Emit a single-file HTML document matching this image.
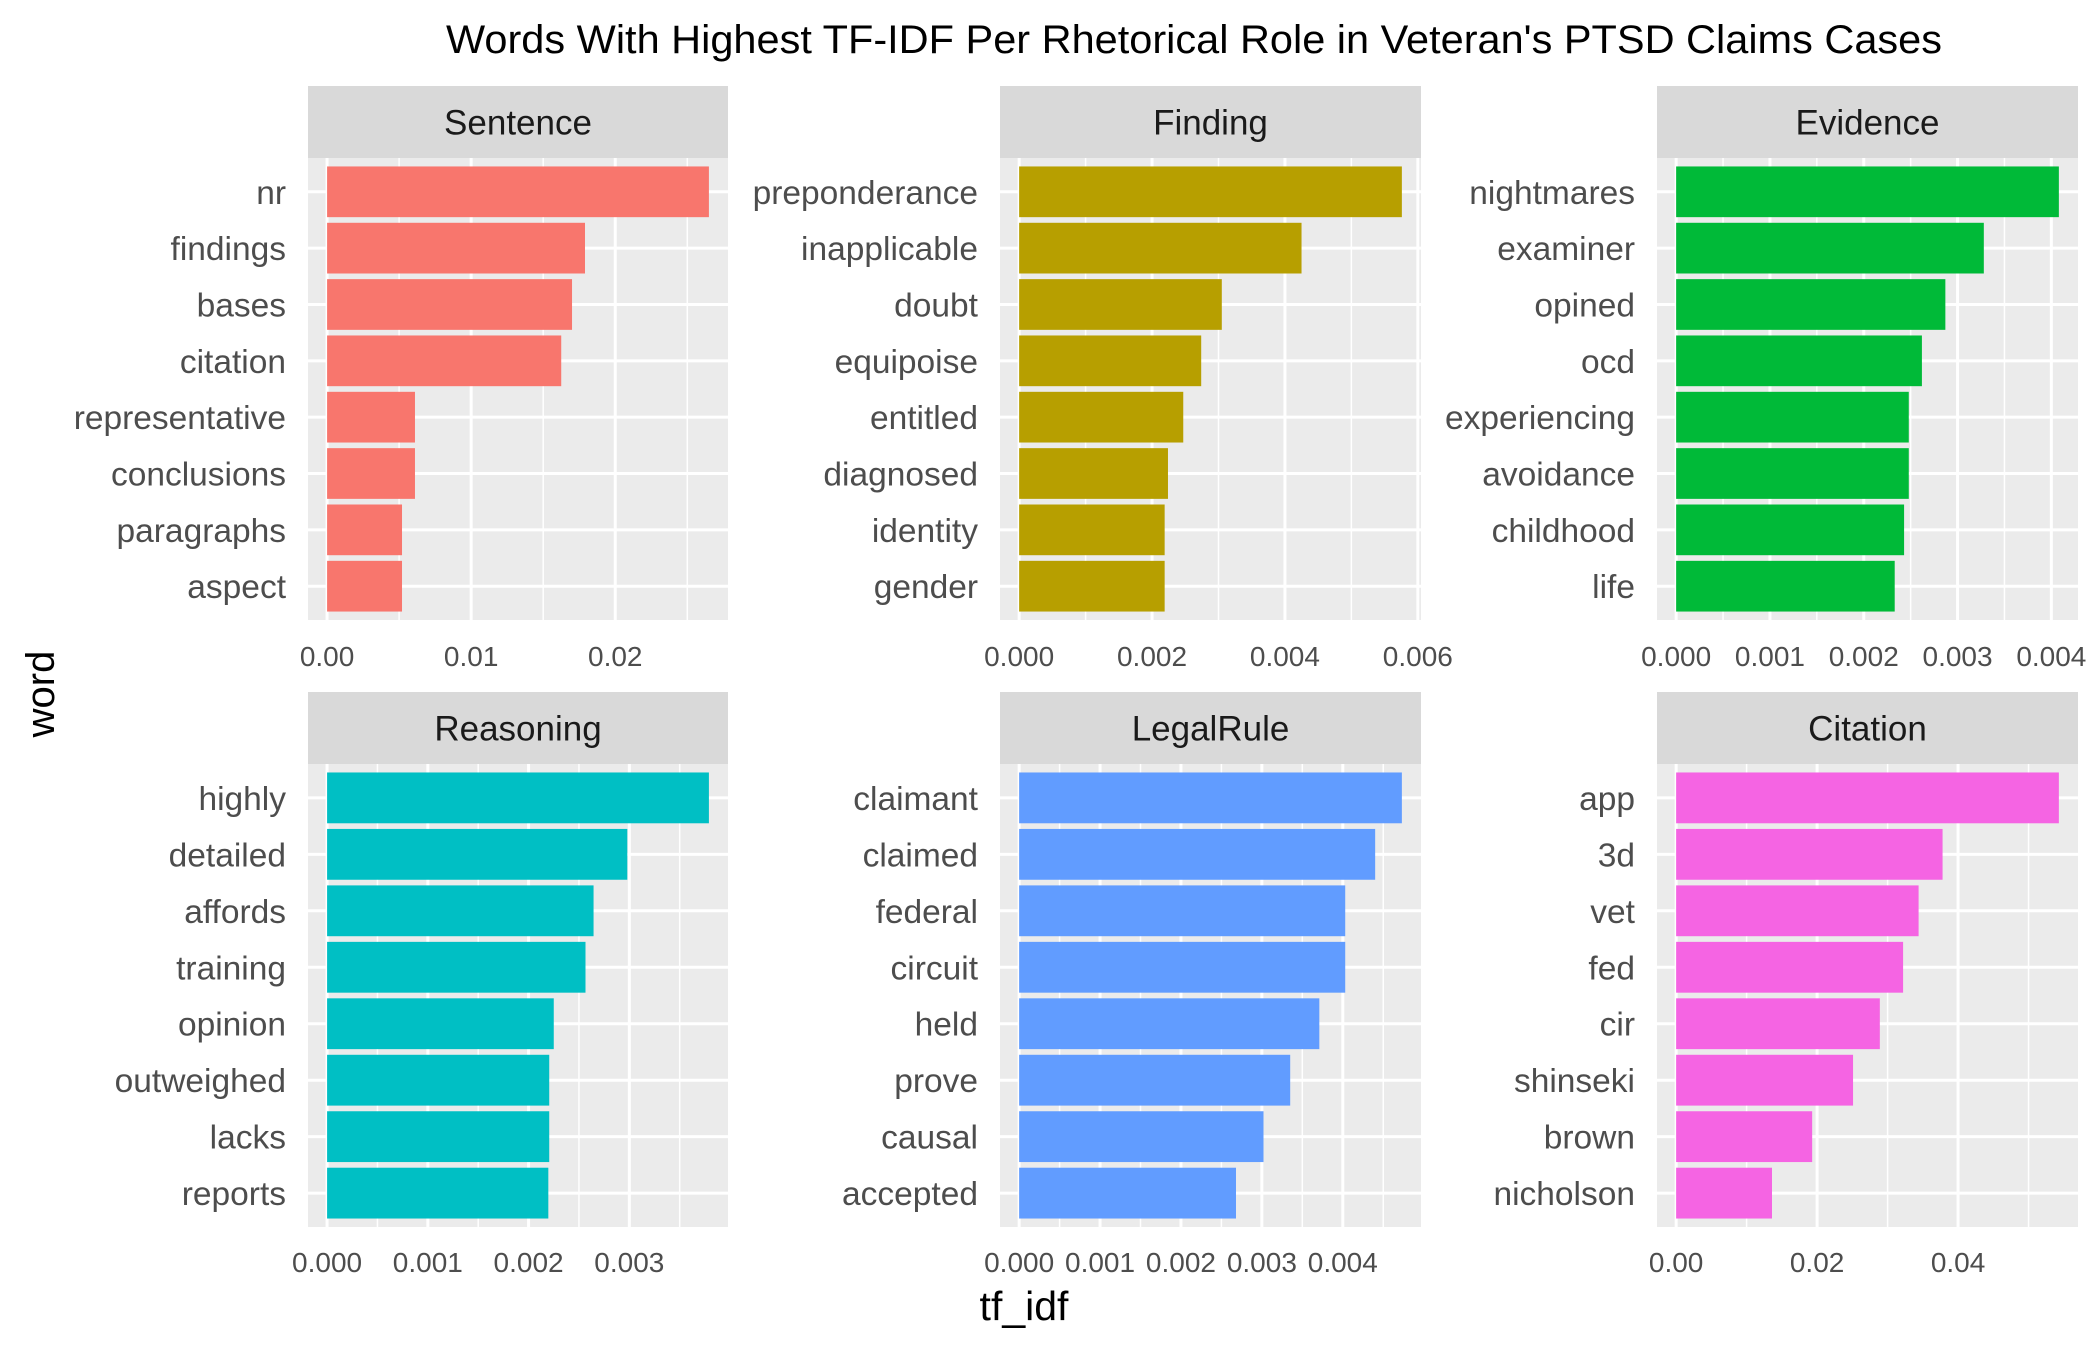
<!DOCTYPE html>
<html><head><meta charset="utf-8"><style>
html,body{margin:0;padding:0;background:#fff}
svg{display:block;font-family:"Liberation Sans",sans-serif}
</style></head><body>
<svg id="chart" width="2100" height="1350" viewBox="0 0 2100 1350" xmlns="http://www.w3.org/2000/svg">
<rect width="2100" height="1350" fill="#fff"/>
<text x="446" y="53" font-size="40" textLength="1496" lengthAdjust="spacingAndGlyphs" fill="#000">Words With Highest TF-IDF Per Rhetorical Role in Veteran's PTSD Claims Cases</text>
<text transform="translate(54,694) rotate(-90)" text-anchor="middle" font-size="40" fill="#000">word</text>
<text x="1024" y="1320" text-anchor="middle" font-size="41" fill="#000">tf_idf</text>
<g id="panels"></g>
</svg>
<script>
const facetNames = ["Sentence","Finding","Evidence","Reasoning","LegalRule","Citation"];
const facetColors = ["#F8766D","#B79F00","#00BA38","#00BFC4","#619CFF","#F564E3"];
const sentenceWords = ["nr","findings","bases","citation","representative","conclusions","paragraphs","aspect"];
const sentenceValues = [0.0265,0.0179,0.0170,0.01625,0.0061,0.0061,0.0052,0.0052];
const findingWords = ["preponderance","inapplicable","doubt","equipoise","entitled","diagnosed","identity","gender"];
const findingValues = [0.00576,0.00425,0.00305,0.00274,0.00247,0.00224,0.00219,0.00219];
const evidenceWords = ["nightmares","examiner","opined","ocd","experiencing","avoidance","childhood","life"];
const evidenceValues = [0.00408,0.00328,0.00287,0.00262,0.00248,0.00248,0.00243,0.00233];
const reasoningWords = ["highly","detailed","affords","training","opinion","outweighed","lacks","reports"];
const reasoningValues = [0.00379,0.00298,0.002645,0.002565,0.00225,0.002205,0.002205,0.002196];
const legalRuleWords = ["claimant","claimed","federal","circuit","held","prove","causal","accepted"];
const legalRuleValues = [0.00473,0.00440,0.00403,0.00403,0.00371,0.00335,0.00302,0.00268];
const citationWords = ["app","3d","vet","fed","cir","shinseki","brown","nicholson"];
const citationValues = [0.0543,0.0378,0.0344,0.0322,0.0289,0.0251,0.0193,0.0136];
const sentenceTicks = ["0.00","0.01","0.02"];
const findingTicks = ["0.000","0.002","0.004","0.006"];
const evidenceTicks = ["0.000","0.001","0.002","0.003","0.004"];
const reasoningTicks = ["0.000","0.001","0.002","0.003"];
const legalRuleTicks = ["0.000","0.001","0.002","0.003","0.004"];
const citationTicks = ["0.00","0.02","0.04"];

const allWords=[sentenceWords,findingWords,evidenceWords,reasoningWords,legalRuleWords,citationWords];
const allValues=[sentenceValues,findingValues,evidenceValues,reasoningValues,legalRuleValues,citationValues];
const allTicks=[sentenceTicks,findingTicks,evidenceTicks,reasoningTicks,legalRuleTicks,citationTicks];

const NS="http://www.w3.org/2000/svg";
const root=document.getElementById('panels');
function mk(tag,attrs,parent){const e=document.createElementNS(NS,tag);for(const k in attrs)e.setAttribute(k,attrs[k]);parent.appendChild(e);return e;}
const colX=[[308,728],[1000,1421],[1657,2078]];
const rowY=[[86,158,620,656],[692,764,1227,1262]];

facetNames.forEach((name,i)=>{
  const c=i%3,r=Math.floor(i/3);
  const [x0,x1]=colX[c];const [sTop,pTop,pBot,tickY]=rowY[r];
  const vals=allValues[i],words=allWords[i],ticks=allTicks[i];
  const mx=Math.max(...vals);
  const dMin=-0.05*mx,dMax=1.05*mx;
  const xs=v=>x0+(v-dMin)/(dMax-dMin)*(x1-x0);
  const n=words.length;
  const unit=(pBot-pTop)/(n-1+1.2);
  const ys=k=>pTop+unit*(0.6+k);
  const g=mk('g',{},root);
  
  
  const strip=mk('rect',{x:x0,y:sTop,width:x1-x0,height:pTop-sTop,fill:'#d9d9d9'},g);
  
  
  const st=mk('text',{x:(x0+x1)/2,y:(sTop+pTop)/2+12.5,'text-anchor':'middle','font-size':35,fill:'#1a1a1a'},g);
  st.textContent=name;
  
  
  const bg=mk('rect',{x:x0,y:pTop,width:x1-x0,height:pBot-pTop,fill:'#ebebeb'},g);
  
  
  const tv=ticks.map(Number);
  const step=tv[1]-tv[0];
  for(let k=-1;k<tv.length+2;k++){
    const v=tv[0]+step*(k+0.5);
    if(v<=dMin||v>=dMax)continue;
    const l=mk('line',{x1:xs(v),x2:xs(v),y1:pTop,y2:pBot,stroke:'#fff','stroke-width':1.5},g);
    
    
  }
  tv.forEach((v,k)=>{
    const l=mk('line',{x1:xs(v),x2:xs(v),y1:pTop,y2:pBot,stroke:'#fff','stroke-width':3},g);
    
    
    const t=mk('text',{x:xs(v),y:tickY+10,'text-anchor':'middle','font-size':28,fill:'#4d4d4d'},g);
    t.textContent=ticks[k];
    
    
  });
  words.forEach((w,k)=>{
    const l=mk('line',{x1:x0,x2:x1,y1:ys(k),y2:ys(k),stroke:'#fff','stroke-width':3},g);
    
    
  });
  words.forEach((w,k)=>{
    const bh=unit*0.9;
    const b=mk('rect',{x:xs(0),y:ys(k)-bh/2,width:xs(vals[k])-xs(0),height:bh,fill:facetColors[i]},g);
    
    
    const t=mk('text',{x:x0-22,y:ys(k)+12,'text-anchor':'end','font-size':33.5,fill:'#4d4d4d'},g);
    t.textContent=w;
    
    
  });
});
</script>
</body></html>
